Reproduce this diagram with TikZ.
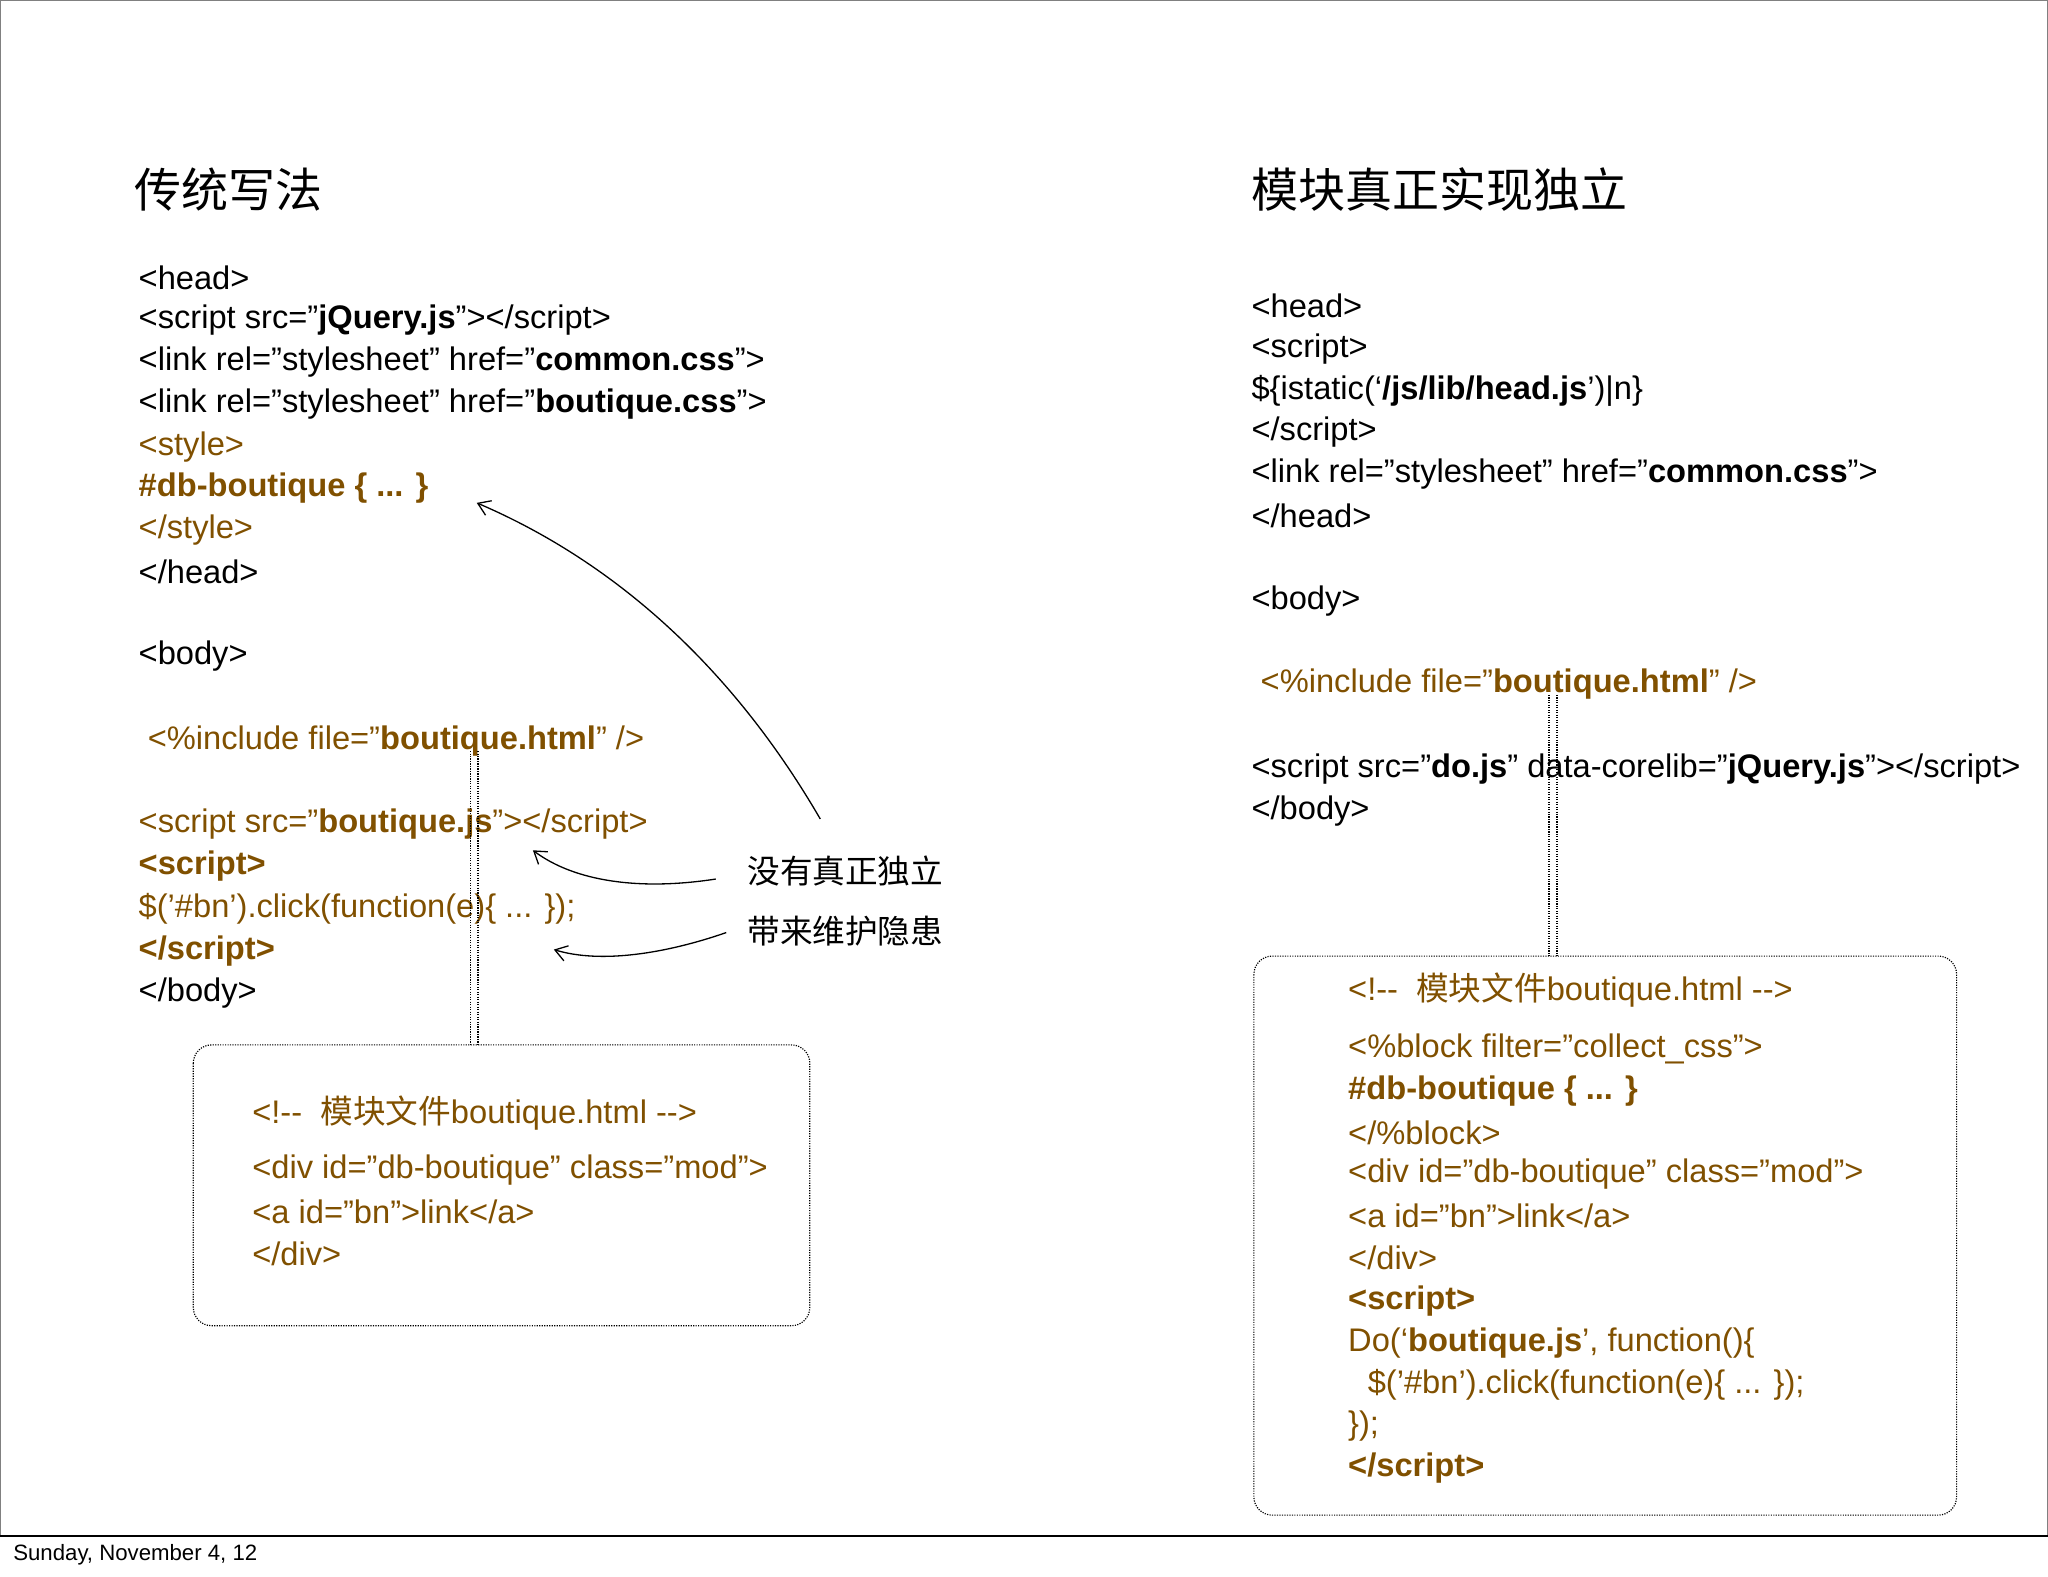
\documentclass[tikz,border=0pt]{standalone}
\usepackage{fontspec}
\usetikzlibrary{arrows.meta}
\setmainfont{Liberation Sans}
\newfontfamily\cjk{Noto Sans CJK SC}
\definecolor{brn}{RGB}{128,80,0}
\begin{document}
\begin{tikzpicture}[x=1pt,y=-1pt,
  code/.style={anchor=west,inner sep=0pt,font=\fontsize{25}{30}\selectfont},
  bcode/.style={code,text=brn},
  ttl/.style={anchor=west,inner sep=0pt,font=\fontsize{36}{40}\cjk},
  lbl/.style={anchor=west,inner sep=0pt,font=\fontsize{25}{30}\cjk},
  dbox/.style={draw,densely dotted,rounded corners=14pt,line width=0.9pt},
  vline/.style={densely dotted,line width=0.9pt},
  arr/.style={-{Straight Barb[length=9pt,width=12pt]},line width=1pt}]
\useasboundingbox (0,0) rectangle (1568,1207);
\clip (0,0) rectangle (1568,1207);
\draw[line width=1pt,gray] (0.5,1176) -- (0.5,0.5) -- (1567.5,0.5) -- (1567.5,1176);
\draw[line width=1pt] (0,1176) -- (1568,1176);
\node[anchor=west,inner sep=0pt,font=\fontsize{17}{20}\selectfont] (foot) at (10,1190) {Sunday, November 4, 12};
% left
\node[ttl] (t1) at (103,145) {传统写法};
\node[code] (l1) at (106,213) {<head>};
\node[code] (l2) at (106,245) {<script src="\textbf{jQuery.js}"></script>};
\node[code] (l3) at (106,277) {<link rel="stylesheet" href="\textbf{common.css}">};
\node[code] (l4) at (106,309) {<link rel="stylesheet" href="\textbf{boutique.css}">};
\node[bcode] (l5) at (106,342) {<style>};
\node[bcode] (l6) at (106,374) {\textbf{\#db-boutique \{ ... \}}};
\node[bcode] (l7) at (106,406) {</style>};
\node[code] (l8) at (106,438) {</head>};
\node[code] (l9) at (106,502) {<body>};
\node[bcode] (l10) at (113,567) {<\%include file=”\textbf{boutique.html}” />};
\node[bcode] (l11) at (106,631) {<script src="\textbf{boutique.js}"></script>};
\node[bcode] (l12) at (106,663) {\textbf{<script>}};
\node[bcode] (l13) at (106,696) {\$('\#bn').click(function(e)\{ ... \});};
\node[bcode] (l14) at (106,728) {\textbf{</script>}};
\node[code] (l15) at (106,760) {</body>};
\draw[dbox] (148,800) rectangle (620,1015);
\node[bcode] (b1) at (193,852) {<!-{}-\ \ {\cjk 模块文件}boutique.html -{}->};
\node[bcode] (b2) at (193,896) {<div id=”db-boutique” class="mod">};
\node[bcode] (b3) at (193,928) {<a id="bn">link</a>};
\node[bcode] (b4) at (193,960) {</div>};
\coordinate (v1a) at (360,575); \coordinate (v1b) at (360,800);
\coordinate (v2a) at (366,575); \coordinate (v2b) at (366,800);
\draw[vline] (v1a) -- (v1b); \draw[vline] (v2a) -- (v2b);
\node[lbl] (n1) at (572,667) {没有真正独立};
\node[lbl] (n2) at (572,713) {带来维护隐患};
\coordinate (a1s) at (628,627); \coordinate (a1e) at (365,385);
\coordinate (a2s) at (548,673); \coordinate (a2e) at (408,651);
\coordinate (a3s) at (556,714); \coordinate (a3e) at (424,727);
\draw[arr] (a1s) .. controls (560,510) and (470,430) .. (a1e);
\draw[arr] (a2s) .. controls (490,682) and (440,675) .. (a2e);
\draw[arr] (a3s) .. controls (510,730) and (460,738) .. (a3e);
% right
\node[ttl] (t2) at (958,145) {模块真正实现独立};
\node[code] (r1) at (958,234) {<head>};
\node[code] (r2) at (958,267) {<script>};
\node[code] (r3) at (958,299) {\$\{istatic(‘\textbf{/js/lib/head.js}’)|n\}};
\node[code] (r4) at (958,331) {</script>};
\node[code] (r5) at (958,363) {<link rel="stylesheet" href="\textbf{common.css}">};
\node[code] (r6) at (958,395) {</head>};
\node[code] (r7) at (958,460) {<body>};
\node[bcode] (r8) at (965,524) {<\%include file=”\textbf{boutique.html}” />};
\node[code] (r9) at (958,589) {<script src="\textbf{do.js}" data-corelib="\textbf{jQuery.js}"></script>};
\node[code] (r10) at (958,621) {</body>};
\draw[dbox] (960,732) rectangle (1498,1160);
\node[bcode] (c1) at (1032,758) {<!-{}-\ \ {\cjk 模块文件}boutique.html -{}->};
\node[bcode] (c2) at (1032,803) {<\%block filter=”collect\_css”>};
\node[bcode] (c3) at (1032,835) {\textbf{\#db-boutique \{ ... \}}};
\node[bcode] (c4) at (1032,867) {</\%block>};
\node[bcode] (c5) at (1032,899) {<div id=”db-boutique” class="mod">};
\node[bcode] (c6) at (1032,931) {<a id="bn">link</a>};
\node[bcode] (c7) at (1032,963) {</div>};
\node[bcode] (c8) at (1032,996) {\textbf{<script>}};
\node[bcode] (c9) at (1032,1028) {Do(‘\textbf{boutique.js}’, function()\{};
\node[bcode] (c10) at (1047,1060) {\$('\#bn').click(function(e)\{ ... \});};
\node[bcode] (c11) at (1032,1092) {\});};
\node[bcode] (c12) at (1032,1124) {\textbf{</script>}};
\coordinate (w1a) at (1186,532); \coordinate (w1b) at (1186,732);
\coordinate (w2a) at (1192,532); \coordinate (w2b) at (1192,732);
\draw[vline] (w1a) -- (w1b); \draw[vline] (w2a) -- (w2b);
\end{tikzpicture}
\end{document}
